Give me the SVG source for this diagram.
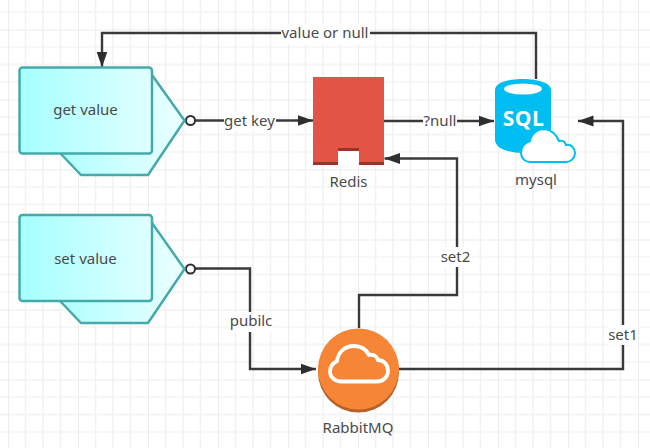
<svg xmlns="http://www.w3.org/2000/svg" width="650" height="448" viewBox="0 0 650 448">
<style>
text{font-family:"Noto Sans","Open Sans","Liberation Sans",sans-serif;font-size:15px;fill:#4a4a4a;text-anchor:middle}
.sh{stroke:#45aaa9;stroke-width:2.5;stroke-linejoin:round}
.line{fill:none;stroke:#3a3a3a;stroke-width:2.400}
.lab{fill:#fff}
</style>
<defs>
<pattern id="grid" patternUnits="userSpaceOnUse" x="8" y="29.5" width="70" height="70">
<path d="M17.5 0V70M35 0V70M52.5 0V70M0 17.5H70M0 35H70M0 52.5H70" stroke="#f2f2f2" stroke-width="1.5" fill="none"/>
<path d="M0 0V70M0 0H70" stroke="#ebebeb" stroke-width="1.800" fill="none"/>
</pattern>
<linearGradient id="g1"><stop offset="0" stop-color="#a6ffff"/><stop offset="1" stop-color="#e0ffff"/></linearGradient>
<linearGradient id="g2" gradientUnits="userSpaceOnUse" x1="60" x2="185" y1="0" y2="0"><stop offset="0" stop-color="#b0ffff"/><stop offset="1" stop-color="#ecffff"/></linearGradient>
<marker id="arrow" markerUnits="userSpaceOnUse" markerWidth="16" markerHeight="12" refX="15.5" refY="6" orient="auto"><path d="M0 .5L15.5 6L0 11.500Z" fill="#2e2e2e"/></marker>
</defs>
<rect width="650" height="448" fill="#fff"/>
<rect width="650" height="448" fill="url(#grid)"/>

<g id="connectors">
<path class="line" d="M536 79V33H102V67" marker-end="url(#arrow)"/>
<path class="line" d="M194.500 120.500H313" marker-end="url(#arrow)"/>
<path class="line" d="M384 121H494" marker-end="url(#arrow)"/>
<path class="line" d="M359 328V295H457V158.500H384.500" marker-end="url(#arrow)"/>
<path class="line" d="M399 369H623V121H578" marker-end="url(#arrow)"/>
<path class="line" d="M194.500 268.500H250V369H316" marker-end="url(#arrow)"/>
<circle cx="190.500" cy="120.500" r="4.500" fill="#fff" stroke="#2e2e2e" stroke-width="2"/>
<circle cx="190.500" cy="269" r="4.500" fill="#fff" stroke="#2e2e2e" stroke-width="2"/>
<g>
<rect class="lab" x="281" y="24" width="89" height="20"/><text x="325" y="38">value or null</text>
<rect class="lab" x="224" y="111" width="52" height="20"/><text x="249.500" y="126">get key</text>
<rect class="lab" x="423" y="111" width="34" height="20"/><text x="440" y="126">?null</text>
<rect class="lab" x="440" y="247" width="32" height="20"/><text x="455.500" y="262">set2</text>
<rect class="lab" x="608" y="325" width="30" height="20"/><text x="623" y="340">set1</text>
<rect class="lab" x="229" y="312" width="44" height="20"/><text x="251" y="326">pubilc</text>
</g>
</g>

<g id="get-value">
<path class="sh" fill="url(#g2)" d="M152 75L184.500 120.500L148 175H81L61 154Z"/>
<rect class="sh" fill="url(#g1)" x="19.500" y="67.500" width="132.500" height="86" rx="3"/>
<text x="85.500" y="115">get value</text>
</g>
<g id="set-value">
<path class="sh" fill="url(#g2)" d="M152 223L184.500 269L148 323H81L61 302Z"/>
<rect class="sh" fill="url(#g1)" x="19.500" y="215" width="132.500" height="86" rx="3"/>
<text x="85.500" y="264">set value</text>
</g>

<g id="redis">
<path fill="#e25444" d="M313 77H384V165H359V149H338V165H313Z"/>
<path fill="#9c3327" d="M313 162H338V165H313ZM359 162H384V165H359ZM338 148H359V151H338Z"/>
<rect x="338" y="151" width="21" height="14" fill="#fff"/>
<text x="348.500" y="187">Redis</text>
</g>

<g id="mysql">
<path fill="#00bef2" d="M495 90C495 83 508 79 523 79C538 79 551 83 551 90V140C551 148 538 153 523 153C508 153 495 148 495 140Z"/>
<ellipse cx="523" cy="89" rx="19" ry="5.500" fill="#fff"/>
<text x="523.500" y="126" style="font-family:'Open Sans','Noto Sans',sans-serif;font-size:21px;font-weight:700;fill:#fff;letter-spacing:.5px">SQL</text>
<path fill="#fff" stroke="#00bef2" stroke-width="2" d="M530 162H566C571 162 575 158 575 153C575 148 571 144 566 145C565 141 562 140 559 141C556 134 551 130 545 129C537 129 531 134 530 141C524 143 521 147 521 153C521 158 525 162 530 162Z"/>
<text x="536" y="185">mysql</text>
</g>

<g id="rabbitmq">
<circle cx="358.500" cy="372" r="40.500" fill="#b5622a"/>
<circle cx="358.500" cy="369" r="40.500" fill="#f68536"/>
<path fill="none" stroke="#fff" stroke-width="3.800" d="M341 381.500H377C384 381.500 388 376 388 371C388 365 384 360 378 360C377 356 373 354 369 355C366 349 360 346 354 346C344 346 338 353 337 361C333 363 330 367 330 372C330 377 335 381.500 341 381.500Z"/>
<text x="358" y="433">RabbitMQ</text>
</g>
</svg>
